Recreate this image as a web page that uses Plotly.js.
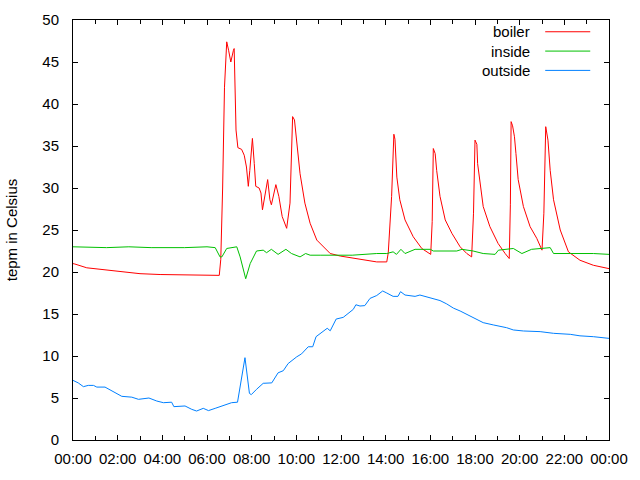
<!DOCTYPE html>
<html>
<head>
<meta charset="utf-8">
<script src="https://cdn.plot.ly/plotly-3.0.1.min.js"></script>
<style>
  html, body { margin: 0; padding: 0; background: #fff; }
  #chart { width: 640px; height: 480px; }
</style>
</head>
<body>
<div id="chart"></div>
<script>
// hours since midnight and temperature (Celsius)
let boilerHours = [0, 0.09, 0.61, 1.43, 2.25, 3.0, 3.9, 5.46, 6.55, 6.62, 6.7, 6.78, 6.88, 6.96, 7.06, 7.18, 7.22, 7.3, 7.38, 7.55, 7.67, 7.77, 7.85, 7.92, 8.03, 8.11, 8.19, 8.34, 8.41, 8.48, 8.59, 8.72, 8.81, 8.89, 9.09, 9.22, 9.37, 9.57, 9.72, 9.84, 9.91, 10.02, 10.17, 10.39, 10.61, 10.91, 11.06, 11.51, 11.96, 12.85, 13.6, 14.05, 14.12, 14.27, 14.37, 14.42, 14.5, 14.64, 14.87, 15.24, 15.62, 16.02, 16.08, 16.14, 16.21, 16.29, 16.43, 16.66, 16.96, 17.33, 17.63, 17.85, 17.93, 18.0, 18.08, 18.12, 18.23, 18.37, 18.67, 19.04, 19.35, 19.54, 19.58, 19.61, 19.68, 19.76, 19.84, 19.94, 20.17, 20.47, 20.76, 21.0, 21.08, 21.17, 21.26, 21.36, 21.51, 21.81, 22.18, 22.7, 23.3, 24.0];
let boilerTemps = [21.0, 20.95, 20.5, 20.25, 19.95, 19.8, 19.7, 19.6, 19.6, 21.5, 30, 42, 47.4, 46.4, 45.0, 46.4, 46.6, 36.9, 34.8, 34.6, 33.9, 32.5, 30.2, 32.1, 35.9, 32.9, 30.2, 30.0, 29.4, 27.4, 29.0, 31.0, 28.6, 28.0, 30.4, 29.0, 26.6, 25.2, 28.2, 38.5, 38.1, 35.4, 31.7, 28.2, 25.8, 23.8, 23.4, 22.2, 21.9, 21.5, 21.2, 21.2, 22.3, 29, 36.4, 35.8, 31.3, 28.6, 26.2, 24.2, 22.8, 22.1, 26, 34.7, 34.1, 32.1, 29.0, 26.2, 24.6, 23.0, 22.2, 21.8, 27, 35.7, 35.2, 32.9, 30.2, 27.8, 25.4, 23.4, 22.2, 21.6, 28, 37.9, 37.4, 36.1, 34.1, 31.0, 27.8, 25.4, 24.0, 22.6, 27, 37.3, 35.7, 32.1, 28.6, 25.0, 22.4, 21.4, 20.8, 20.4];

let insideHours = [0, 1.5, 2.5, 3.5, 5.0, 6.0, 6.36, 6.58, 6.66, 6.88, 7.33, 7.48, 7.73, 7.93, 8.22, 8.52, 8.66, 8.89, 9.19, 9.54, 9.79, 10.17, 10.42, 10.61, 11.06, 12.5, 13.6, 14.05, 14.34, 14.49, 14.69, 14.87, 15.32, 16.0, 16.14, 17.18, 17.41, 17.91, 18.37, 18.9, 19.05, 19.35, 19.72, 20.1, 20.54, 21.36, 21.51, 22.26, 23.3, 24.0];
let insideTemps = [23.0, 22.9, 23.0, 22.9, 22.9, 23.0, 22.9, 21.8, 21.8, 22.8, 23.0, 21.8, 19.2, 21.0, 22.5, 22.6, 22.3, 22.7, 22.1, 22.7, 22.2, 21.8, 22.2, 22.0, 22.0, 22.0, 22.2, 22.2, 22.4, 22.1, 22.7, 22.2, 22.7, 22.7, 22.5, 22.5, 22.7, 22.5, 22.2, 22.1, 22.6, 22.7, 22.8, 22.2, 22.7, 22.9, 22.2, 22.2, 22.2, 22.1];

let outsideHours = [0, 0.24, 0.46, 0.69, 0.91, 1.07, 1.43, 1.66, 1.96, 2.18, 2.63, 2.93, 3.4, 3.75, 4.05, 4.42, 4.52, 5.01, 5.31, 5.54, 5.84, 6.06, 6.36, 6.73, 7.1, 7.36, 7.55, 7.7, 7.9, 7.99, 8.22, 8.52, 8.9, 9.19, 9.42, 9.64, 10.02, 10.24, 10.54, 10.73, 10.88, 11.13, 11.39, 11.51, 11.78, 12.1, 12.55, 12.67, 12.85, 13.07, 13.3, 13.6, 13.87, 14.05, 14.34, 14.55, 14.67, 14.87, 15.31, 15.54, 15.91, 16.43, 16.73, 17.03, 17.33, 17.63, 18.0, 18.37, 18.82, 19.42, 19.72, 20.17, 20.91, 21.51, 22.26, 22.7, 23.3, 23.82, 24.0];
let outsideTemps = [7.1, 6.8, 6.35, 6.5, 6.5, 6.3, 6.3, 5.95, 5.5, 5.2, 5.1, 4.84, 5.0, 4.64, 4.44, 4.5, 3.97, 4.05, 3.65, 3.45, 3.77, 3.5, 3.77, 4.09, 4.44, 4.5, 7.5, 9.8, 5.55, 5.4, 6.03, 6.75, 6.8, 8.0, 8.25, 9.1, 9.9, 10.25, 11.1, 11.1, 12.3, 12.8, 13.3, 13.0, 14.4, 14.6, 15.55, 16.1, 15.95, 16.0, 16.86, 17.2, 17.74, 17.5, 17.1, 17.1, 17.66, 17.26, 17.1, 17.26, 16.94, 16.6, 16.2, 15.7, 15.36, 14.96, 14.5, 13.97, 13.7, 13.37, 13.1, 12.98, 12.9, 12.7, 12.58, 12.4, 12.3, 12.1, 12.1];

let seriesNames = ["boiler", "inside", "outside"];
let seriesColors = ["#ff0000", "#00c000", "#0080ff"];

let day = "2013-01-01";

function toTime(h) {
    let mins = Math.round(h * 60);
    if (mins >= 24 * 60) return "2013-01-02 00:00";
    let hh = String(Math.floor(mins / 60)).padStart(2, "0");
    let mm = String(mins % 60).padStart(2, "0");
    return day + " " + hh + ":" + mm;
}

function drawChart() {
    let hours = [boilerHours, insideHours, outsideHours];
    let temps = [boilerTemps, insideTemps, outsideTemps];
    let data = seriesNames.map(function (name, i) {
        return {
            x: hours[i].map(toTime),
            y: temps[i],
            name: name,
            type: "scatter",
            mode: "lines",
            line: { color: seriesColors[i], width: 1 },
            showlegend: false
        };
    });

    // gnuplot style key: text on the left, line sample on the right
    let annotations = [];
    let shapes = [];
    seriesNames.forEach(function (name, i) {
        let y = 0.972 - i * 0.046;
        annotations.push({
            xref: "paper", yref: "paper", x: 0.857, y: y,
            xanchor: "right", yanchor: "middle", showarrow: false,
            text: name, font: { size: 15, color: "#000" }
        });
        shapes.push({
            type: "line", xref: "paper", yref: "paper",
            x0: 0.881, x1: 0.965, y0: y, y1: y,
            line: { color: seriesColors[i], width: 1 }
        });
    });

    let layout = {
        width: 640,
        height: 480,
        margin: { l: 73, r: 31, t: 20, b: 40 },
        paper_bgcolor: "#fff",
        plot_bgcolor: "#fff",
        font: { family: "Liberation Sans, Arial, sans-serif", size: 15, color: "#000" },
        showlegend: false,
        xaxis: {
            type: "date",
            range: ["2013-01-01 00:00", "2013-01-02 00:00"],
            tickformat: "%H:%M",
            tick0: "2013-01-01 00:00",
            dtick: 7200000,
            ticks: "inside",
            ticklen: 5,
            tickcolor: "#000",
            minor: { dtick: 3600000, ticks: "inside", ticklen: 4, tickcolor: "#000", showgrid: false },
            showline: true,
            linecolor: "#000",
            linewidth: 1,
            mirror: "allticks",
            showgrid: false,
            zeroline: false,
            ticklabelstandoff: 5
        },
        yaxis: {
            range: [0, 50],
            dtick: 5,
            ticks: "inside",
            ticklen: 5,
            tickcolor: "#000",
            showline: true,
            linecolor: "#000",
            linewidth: 1,
            mirror: "allticks",
            showgrid: false,
            zeroline: false,
            ticklabelstandoff: 10,
            title: { text: "tepm in Celsius", font: { size: 15 }, standoff: 21 }
        },
        annotations: annotations,
        shapes: shapes
    };
    Plotly.newPlot("chart", data, layout, { displayModeBar: false, staticPlot: true });
}

document.addEventListener("DOMContentLoaded", drawChart);
</script>
</body>
</html>
